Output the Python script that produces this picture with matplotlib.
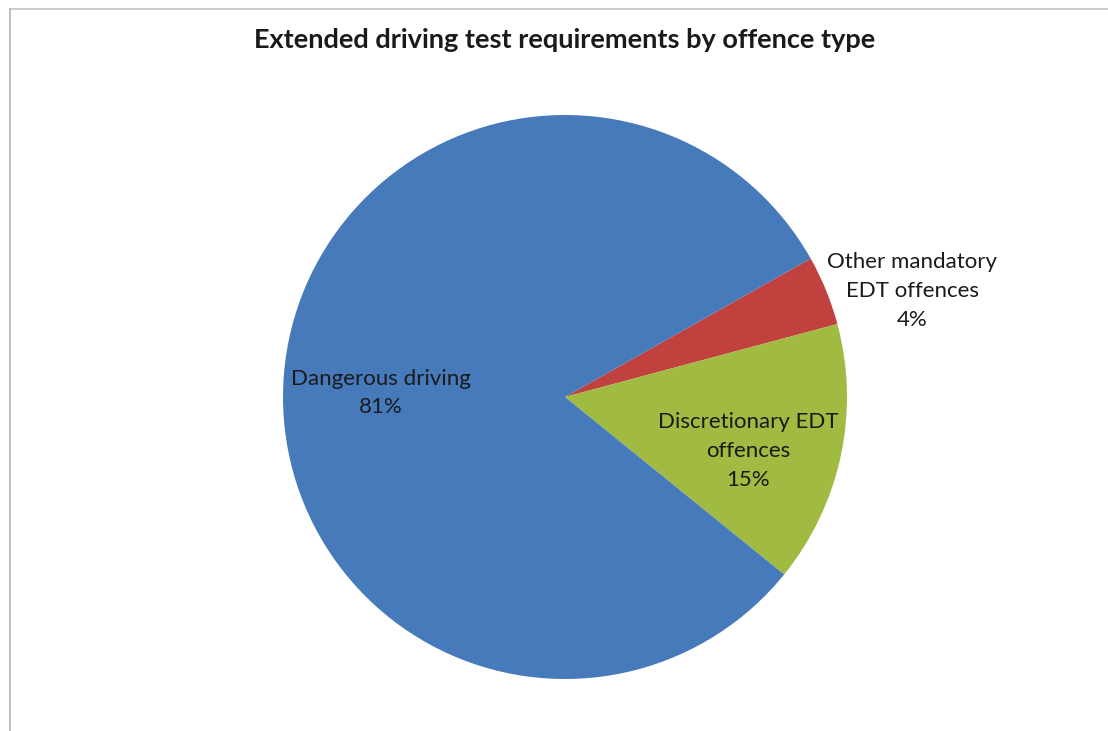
import numpy as np
import matplotlib.pyplot as plt
from matplotlib.lines import Line2D

title = "Extended driving test requirements by offence type"
categories = ["Other mandatory\nEDT offences", "Discretionary EDT\noffences", "Dangerous driving"]
shares = [4, 15, 81]
colours = ["#C0413D", "#A1BA42", "#467ABB"]

# label anchor points (pixels from top-left) for each slice
label_pos = [(912, 291), (748, 451), (381, 393)]

W, H = 1108, 731
fig = plt.figure(figsize=(W / 100, H / 100), dpi=100)
ax = fig.add_axes([0, 0, 1, 1])

ax.pie(shares, colors=colours, startangle=29.4, counterclock=False,
       center=(565, H - 397), radius=282,
       wedgeprops=dict(linewidth=0))

for cat, val, (px, py) in zip(categories, shares, label_pos):
    ax.text(px, H - py, f"{cat}\n{val}%", ha="center", va="center",
            fontsize=16, family="Lato", color="#1a1a1a", linespacing=1.56)

ax.set_xlim(0, W)
ax.set_ylim(0, H)
ax.set_aspect("equal")
ax.axis("off")

fig.text(565 / W, 1 - 40 / H, title, ha="center", va="center",
         fontsize=19.5, fontweight="bold", family="Lato", color="#1a1a1a")

# chart border, only top and left edges show
fig.add_artist(Line2D([10 / W, 1], [1 - 9 / H, 1 - 9 / H], color="#c4c4c4", lw=1.2,
                      transform=fig.transFigure))
fig.add_artist(Line2D([10 / W, 10 / W], [0, 1 - 9 / H], color="#b4b4b4", lw=1.2,
                      transform=fig.transFigure))

fig.savefig("out.png", dpi=100, facecolor="white")
